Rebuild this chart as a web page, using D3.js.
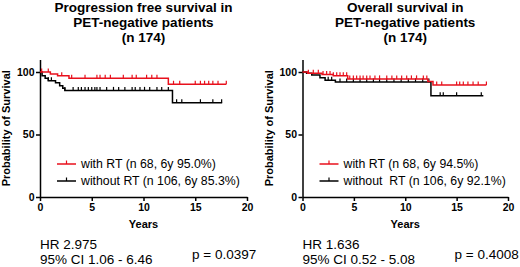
<!DOCTYPE html>
<html>
<head>
<meta charset="utf-8">
<script src="https://cdn.jsdelivr.net/npm/d3@7"></script>
<style>
  html, body { margin: 0; padding: 0; background: #fff; }
  svg { display: block; font-family: "Liberation Sans", Arial, sans-serif; }
  svg text { white-space: pre; }
  .axis path, .axis line { stroke: #000; stroke-width: 1.5; }
  .axis text { font-weight: bold; font-size: 10.5px; fill: #000; }
</style>
</head>
<body>
<div id="chart"></div>
<script>
// Kaplan-Meier steps: [years, % surviving]
const pfsWithRT = [[0, 100], [1.0, 98.5], [1.7, 97], [2.8, 95.0], [12.4, 90.2], [18.0, 90.2]];
const pfsWithoutRT = [[0, 100], [0.2, 97], [0.5, 95], [0.8, 93], [1.5, 91.5], [1.9, 89], [2.2, 87], [2.4, 85.3], [12.8, 75.4], [17.6, 75.4]];
const osWithRT = [[0, 100], [0.5, 99], [1.9, 98], [3.0, 97], [4.4, 94.5], [12.2, 92.5], [12.7, 89.6], [17.9, 89.6]];
const osWithoutRT = [[0, 100], [0.4, 99], [0.9, 97.6], [1.7, 95.5], [2.2, 93.5], [3.2, 92.1], [12.5, 81], [17.6, 81]];

// censored observations (years)
const pfsWithRTCens = [0.16, 0.8, 2.1, 3.06, 4.35, 5.5, 5.8, 6.3, 6.8, 8.05, 8.9, 9.3, 10.3, 10.8, 11.3, 12.9, 13.5, 15.0, 15.5, 15.9, 16.3, 16.7, 17.2, 18.0];
const pfsWithoutRTCens = [0.8, 1.1, 2.4, 3.2, 3.7, 4.0, 4.35, 4.67, 5.0, 5.3, 5.5, 5.8, 6.44, 7.1, 7.6, 8.2, 8.9, 9.2, 9.66, 10.1, 10.6, 11.3, 11.76, 12.4, 13.2, 13.7, 15.5, 16.7, 17.55];
const osWithRTCens = [0.57, 1.05, 1.54, 2.0, 2.35, 2.68, 3.0, 3.33, 3.65, 3.97, 4.3, 4.6, 4.95, 5.27, 5.6, 5.9, 6.25, 6.57, 7.05, 7.5, 8.2, 8.7, 9.17, 9.65, 10.14, 10.6, 11.1, 11.76, 12.1, 13.06, 13.55, 15.0, 15.3, 15.65, 16.1, 16.6, 17.1, 17.9];
const osWithoutRTCens = [2.5, 2.84, 3.65, 4.3, 4.95, 5.6, 6.25, 6.9, 7.5, 8.2, 8.9, 9.6, 10.3, 11.0, 11.7, 12.3, 13.4, 13.7, 15.0, 17.4];

const xTicks = [0, 5, 10, 15, 20];
const yTicks = [0, 50, 100];

const pfsTitle = ["Progression free survival in", "PET-negative patients", "(n 174)"];
const osTitle = ["Overall survival in", "PET-negative patients", "(n 174)"];
const pfsLegend = ["with RT (n 68, 6y 95.0%)", "without RT (n 106, 6y 85.3%)"];
const osLegend = ["with RT (n 68, 6y 94.5%)", "without  RT (n 106, 6y 92.1%)"];
const pfsStats = ["HR 2.975", "95% CI 1.06 - 6.46", "p = 0.0397"];
const osStats = ["HR 1.636", "95% CI 0.52 - 5.08", "p = 0.4008"];

const RED = "#e8101c";

const svg = d3.select("#chart").append("svg").attr("width", 520).attr("height", 267);

function survAt(steps, t) {
  let s = steps[0][1];
  for (const [tt, v] of steps) if (tt <= t) s = v;
  return s;
}

function drawPanel({ left, right, title, series, legend, stats }) {
  const x = d3.scaleLinear().domain([0, 20]).range([left, right]);
  const y = d3.scaleLinear().domain([0, 110]).range([197, 59.5]);
  const g = svg.append("g");

  // title
  const cx = (left + right) / 2;
  g.selectAll(".title").data(title).join("text")
    .attr("x", cx).attr("y", (d, i) => 11.5 + i * 15)
    .attr("text-anchor", "middle").attr("font-size", "13.5px").attr("font-weight", "bold")
    .text((d) => d);

  // axes
  g.append("g").attr("class", "axis").attr("transform", `translate(0,${y(0)})`)
    .call(d3.axisBottom(x).tickValues(xTicks).tickSize(4).tickSizeOuter(0).tickPadding(3));
  g.append("g").attr("class", "axis").attr("transform", `translate(${left},0)`)
    .call(d3.axisLeft(y).tickValues(yTicks).tickSize(4).tickSizeOuter(0).tickPadding(1.5));

  g.append("text").attr("x", cx).attr("y", 227.5).attr("text-anchor", "middle")
    .attr("font-size", "11px").attr("font-weight", "bold").text("Years");
  g.append("text").attr("transform", `translate(${left - 30},${y(55)}) rotate(-90)`)
    .attr("text-anchor", "middle").attr("font-size", "11px").attr("font-weight", "bold")
    .text("Probability of Survival");

  const line = d3.line().x((d) => x(d[0])).y((d) => y(d[1])).curve(d3.curveStepAfter);

  // black first, red on top
  series.slice().reverse().forEach((s) => {
    g.append("path").attr("d", line(s.steps)).attr("fill", "none")
      .attr("stroke", s.color).attr("stroke-width", 1.5);
    g.selectAll(null).data(s.cens).join("line")
      .attr("x1", (t) => x(t)).attr("x2", (t) => x(t))
      .attr("y1", (t) => y(survAt(s.steps, t)))
      .attr("y2", (t) => y(survAt(s.steps, t)) - 3.5)
      .attr("stroke", s.color).attr("stroke-width", 1.2);
  });

  // legend
  const lg = g.append("g").attr("transform", `translate(${left + 17},164)`);
  series.forEach((s, i) => {
    const row = lg.append("g").attr("transform", `translate(0,${i * 17})`);
    row.append("line").attr("x1", 0).attr("x2", 19).attr("stroke", s.color).attr("stroke-width", 1.5);
    row.append("line").attr("x1", 9.5).attr("x2", 9.5).attr("y1", 0).attr("y2", -3.5)
      .attr("stroke", s.color).attr("stroke-width", 1.2);
    row.append("text").attr("x", 24).attr("y", 4.3).attr("font-size", "12.3px").text(legend[i]);
  });

  // stats
  g.append("text").attr("x", left).attr("y", 249).attr("font-size", "13.5px").text(stats[0]);
  g.append("text").attr("x", left).attr("y", 263.5).attr("font-size", "13.5px").text(stats[1]);
  g.append("text").attr("x", left + 152).attr("y", 259).attr("font-size", "13.5px").text(stats[2]);
}

drawPanel({
  left: 40, right: 247, title: pfsTitle, legend: pfsLegend, stats: pfsStats,
  series: [
    { steps: pfsWithRT, cens: pfsWithRTCens, color: RED },
    { steps: pfsWithoutRT, cens: pfsWithoutRTCens, color: "#000" }
  ]
});
drawPanel({
  left: 302.5, right: 508, title: osTitle, legend: osLegend, stats: osStats,
  series: [
    { steps: osWithRT, cens: osWithRTCens, color: RED },
    { steps: osWithoutRT, cens: osWithoutRTCens, color: "#000" }
  ]
});
</script>
</body>
</html>
